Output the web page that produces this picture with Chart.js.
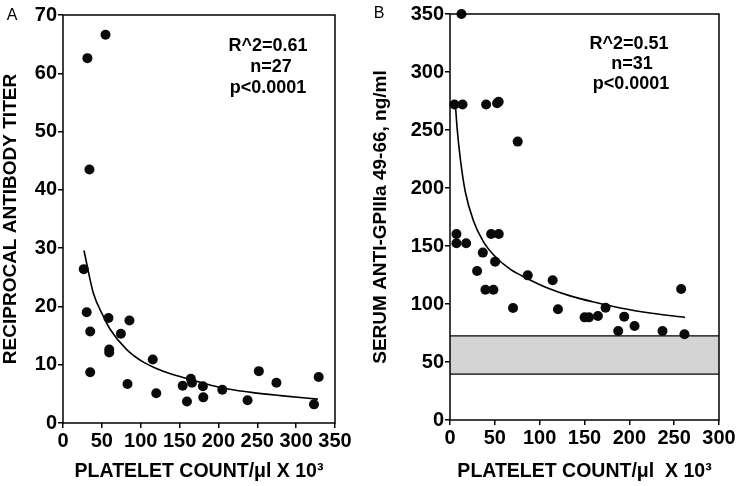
<!DOCTYPE html>
<html>
<head>
<meta charset="utf-8">
<script src="https://cdn.jsdelivr.net/npm/chart.js@4/dist/chart.umd.min.js"></script>
<style>
  html, body { margin: 0; padding: 0; background: #ffffff; }
  #wrap { position: relative; width: 740px; height: 486px; background: #fff; }
  .pane { position: absolute; top: 0; width: 370px; height: 486px; }
</style>
</head>
<body>
<div id="wrap">
  <div class="pane" style="left:0"><canvas id="cA" width="370" height="486"></canvas></div>
  <div class="pane" style="left:370px"><canvas id="cB" width="370" height="486"></canvas></div>
</div>
<script>
// ---------- Panel A data ----------
const aPlateletX = [26.7, 30.5, 35, 35, 58.5, 59.5, 59.5, 74.5, 83, 85.5, 115.5, 120, 154, 159.5, 164.5, 166, 180, 180.5, 205, 237.5, 252, 274.6, 323, 329, 31.4, 54.7, 34];
const aTiterY    = [26.4, 19.0, 15.7, 8.7, 18.0, 12.6, 12.1, 15.3, 6.7, 17.6, 10.9, 5.1, 6.4, 3.7, 7.6, 6.9, 6.3, 4.4, 5.7, 3.9, 8.9, 6.9, 3.2, 7.9, 62.6, 66.6, 43.5];
const aFitX = [27, 39, 52, 61, 82, 104, 125, 147, 168, 202, 240, 280, 328];
const aFitY = [29.6, 22.3, 18.3, 16.0, 12.6, 10.4, 9.1, 8.1, 7.3, 6.1, 5.3, 4.7, 4.1];
const aXTicks = [0, 50, 100, 150, 200, 250, 300, 350];
const aYTicks = [0, 10, 20, 30, 40, 50, 60, 70];
const aStats = ["R^2=0.61", "n=27", "p<0.0001"];

// ---------- Panel B data ----------
const bPlateletX = [12.8, 5, 14, 40.3, 52.5, 54.3, 75.5, 7.2, 7.2, 18.0, 45.9, 54.4, 36.6, 50.3, 30.2, 39.5, 48.4, 70.3, 86.7, 114.5, 120.4, 150.1, 155, 165, 173.5, 187.6, 194.3, 205.8, 237, 257.8, 261.5];
const bSerumY    = [350, 272, 272, 272, 273, 274.4, 240, 160.3, 152.3, 152.3, 160.3, 160.3, 144.3, 136.5, 128.4, 112.3, 112.3, 96.6, 124.7, 120.4, 95.4, 88.5, 88.5, 89.7, 96.8, 76.7, 89.1, 81, 76.7, 112.9, 73.9];
const bFitX = [6, 8, 11.7, 17, 26, 37, 49, 67, 86, 108, 134, 164, 190, 225, 262];
const bFitY = [272, 251, 224, 197, 172, 154, 142, 130, 122, 114, 107, 101, 96.5, 92, 88.5];
const bNormalLow = 39.5;
const bNormalHigh = 72.5;
const bXTicks = [0, 50, 100, 150, 200, 250, 300];
const bYTicks = [0, 50, 100, 150, 200, 250, 300, 350];
const bStats = ["R^2=0.51", "n=31", "p<0.0001"];

const FONT = "'Liberation Sans', Arial, Helvetica, sans-serif";
Chart.defaults.font.family = FONT;
Chart.defaults.color = '#000';

const zip = (xs, ys) => xs.map((x, i) => ({ x: x, y: ys[i] }));

const framePlugin = {
  id: 'frame',
  afterDraw(chart, args, opts) {
    const ctx = chart.ctx, a = chart.chartArea;
    ctx.save();
    ctx.strokeStyle = '#000';
    ctx.lineWidth = 1.5;
    ctx.strokeRect(a.left, a.top, a.right - a.left, a.bottom - a.top);
    ctx.font = "16px " + FONT;
    ctx.fillStyle = '#000';
    ctx.textAlign = 'center';
    ctx.textBaseline = 'middle';
    ctx.fillText(opts.letter, opts.letterX, opts.letterY);
    ctx.font = "bold 18px " + FONT;
    opts.lines.forEach((t, i) => {
      ctx.fillText(t, opts.statX[i], opts.statY[i]);
    });
    ctx.restore();
  }
};

function makeChart(id, cfg) {
  const yAxisWidth = cfg.area.left;
  const xAxisHeight = 486 - cfg.area.bottom;
  return new Chart(document.getElementById(id), {
    type: 'scatter',
    data: { datasets: cfg.datasets },
    options: {
      responsive: false,
      animation: false,
      devicePixelRatio: 1,
      layout: { padding: { top: cfg.area.top, right: 370 - cfg.area.right, left: 0, bottom: 0 } },
      plugins: {
        legend: { display: false },
        tooltip: { enabled: false },
        frame: cfg.frame
      },
      scales: {
        x: {
          type: 'linear',
          min: cfg.xTicks[0], max: cfg.xTicks[cfg.xTicks.length - 1],
          afterBuildTicks: s => { s.ticks = cfg.xTicks.map(v => ({ value: v })); },
          afterFit: s => { s.height = xAxisHeight; },
          grid: { display: true, drawOnChartArea: false, drawTicks: true, tickLength: 5, color: '#000', lineWidth: 1.5 },
          border: { display: false },
          ticks: { font: { size: 20, weight: 'bold' }, padding: 1, maxRotation: 0, color: '#000' },
          title: { display: true, text: cfg.xTitle, font: { size: 19.5, weight: 'bold', lineHeight: 1.2 }, padding: { top: 0, bottom: 3 }, color: '#000' }
        },
        y: {
          type: 'linear',
          min: cfg.yTicks[0], max: cfg.yTicks[cfg.yTicks.length - 1],
          afterBuildTicks: s => { s.ticks = cfg.yTicks.map(v => ({ value: v })); },
          afterFit: s => { s.width = yAxisWidth; },
          grid: { display: true, drawOnChartArea: false, drawTicks: true, tickLength: 5, color: '#000', lineWidth: 1.5 },
          border: { display: false },
          ticks: { font: { size: 20, weight: 'bold' }, padding: 1, color: '#000' },
          title: { display: true, text: cfg.yTitle, font: { size: 19, weight: 'bold', lineHeight: 1.0 }, padding: { top: 1, bottom: 0 }, color: '#000' }
        }
      }
    },
    plugins: [framePlugin]
  });
}

const pointStyle = {
  showLine: false, pointRadius: 5, pointHoverRadius: 5,
  pointBackgroundColor: '#0a0a0a', pointBorderColor: '#0a0a0a', pointBorderWidth: 0, clip: 12
};
const fitStyle = {
  showLine: true, pointRadius: 0, borderColor: '#000', borderWidth: 1.6,
  cubicInterpolationMode: 'monotone', fill: false
};

makeChart('cA', {
  area: { left: 63, right: 335, top: 15, bottom: 423 },
  xTicks: aXTicks, yTicks: aYTicks,
  xTitle: 'PLATELET COUNT/\u03bcl X 10\u00b3',
  yTitle: 'RECIPROCAL ANTIBODY TITER',
  datasets: [
    Object.assign({ label: 'Patients', data: zip(aPlateletX, aTiterY) }, pointStyle),
    Object.assign({ label: 'Fit', data: zip(aFitX, aFitY) }, fitStyle)
  ],
  frame: { letter: 'A', letterX: 12, letterY: 16, lines: aStats, statX: [268, 271, 268], statY: [46, 67, 88] }
});

makeChart('cB', {
  area: { left: 80, right: 349, top: 14, bottom: 420 },
  xTicks: bXTicks, yTicks: bYTicks,
  xTitle: 'PLATELET COUNT/\u03bcl  X 10\u00b3',
  yTitle: 'SERUM ANTI-GPIIIa 49-66, ng/ml',
  datasets: [
    Object.assign({ label: 'Patients', data: zip(bPlateletX, bSerumY) }, pointStyle),
    Object.assign({ label: 'Fit', data: zip(bFitX, bFitY) }, fitStyle),
    { label: 'Normal low', data: [{ x: 0, y: bNormalLow }, { x: 300, y: bNormalLow }], showLine: true, pointRadius: 0, borderColor: '#000', borderWidth: 1.3, fill: false },
    { label: 'Normal high', data: [{ x: 0, y: bNormalHigh }, { x: 300, y: bNormalHigh }], showLine: true, pointRadius: 0, borderColor: '#000', borderWidth: 1.3, fill: '-1', backgroundColor: '#d4d4d4' }
  ],
  frame: { letter: 'B', letterX: 9, letterY: 14, lines: bStats, statX: [259, 262, 261], statY: [44, 64, 84] }
});
</script>
</body>
</html>
